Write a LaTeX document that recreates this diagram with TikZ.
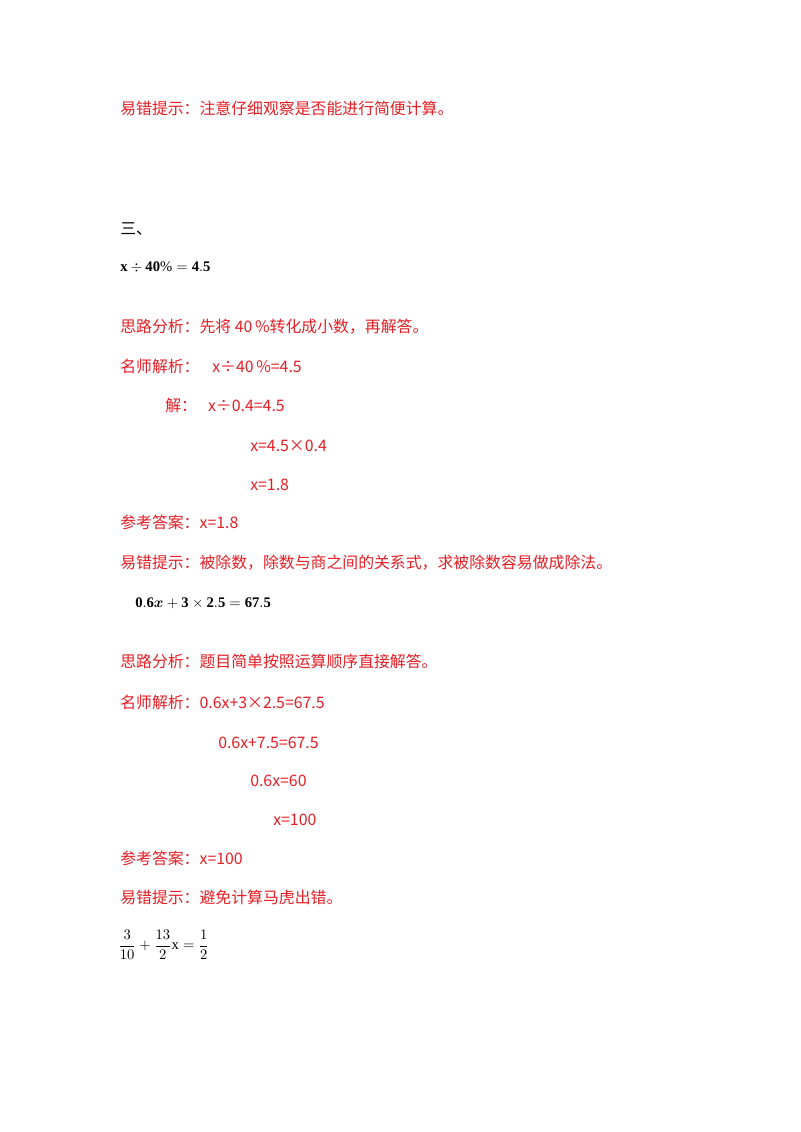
\documentclass[tikz,border=0pt]{standalone}
\usepackage{amsmath}
\usepackage{fontspec}
\newfontfamily\cjk{Noto Sans CJK SC}
\setmainfont{Liberation Serif}
\definecolor{tr}{RGB}{228,30,36}
\begin{document}
\begin{tikzpicture}[x=0.75pt,y=-0.75pt,
  t/.style={anchor=base west,inner sep=0pt,text=tr,font=\cjk\fontsize{11.9}{13}\selectfont},
  m/.style={anchor=base west,inner sep=0pt,font=\fontsize{11}{13}\selectfont}]
\useasboundingbox (0,0) rectangle (800,1132);
\node[t] (a1) at (120,114) {易错提示：注意仔细观察是否能进行简便计算。};
\node[t,text=black] (a2) at (120,234) {三、};
\node[m] (a3) at (120,271) {$\mathbf{x \div 40\% = 4.5}$};
\node[t] (a4) at (120,332) {思路分析：先将 40\,\%转化成小数，再解答。};
\node[t] (a5) at (120,372) {名师解析：\hspace{0.8em}x÷40\,\%=4.5};
\node[t] (a6) at (165,411) {解：\hspace{0.7em}x÷0.4=4.5};
\node[t] (a7) at (250,451) {x=4.5×0.4};
\node[t] (a8) at (250,490) {x=1.8};
\node[t] (a9) at (120,528) {参考答案：x=1.8};
\node[t] (a10) at (120,568) {易错提示：被除数，除数与商之间的关系式，求被除数容易做成除法。};
\node[m] (a11) at (135,607) {$\mathbf{0.6}\boldsymbol{x}\mathbf{{}+3\times 2.5=67.5}$};
\node[t] (a12) at (120,667) {思路分析：题目简单按照运算顺序直接解答。};
\node[t] (a13) at (120,708) {名师解析：0.6x+3×2.5=67.5};
\node[t] (a14) at (218,748) {0.6x+7.5=67.5};
\node[t] (a15) at (250,786) {0.6x=60};
\node[t] (a16) at (273,825) {x=100};
\node[t] (a17) at (120,864) {参考答案：x=100};
\node[t] (a18) at (120,903) {易错提示：避免计算马虎出错。};
\node[m,anchor=west] (a19) at (118,945) {$\dfrac{3}{10}+\dfrac{13}{2}\mathrm{x}=\dfrac{1}{2}$};
\end{tikzpicture}
\end{document}
